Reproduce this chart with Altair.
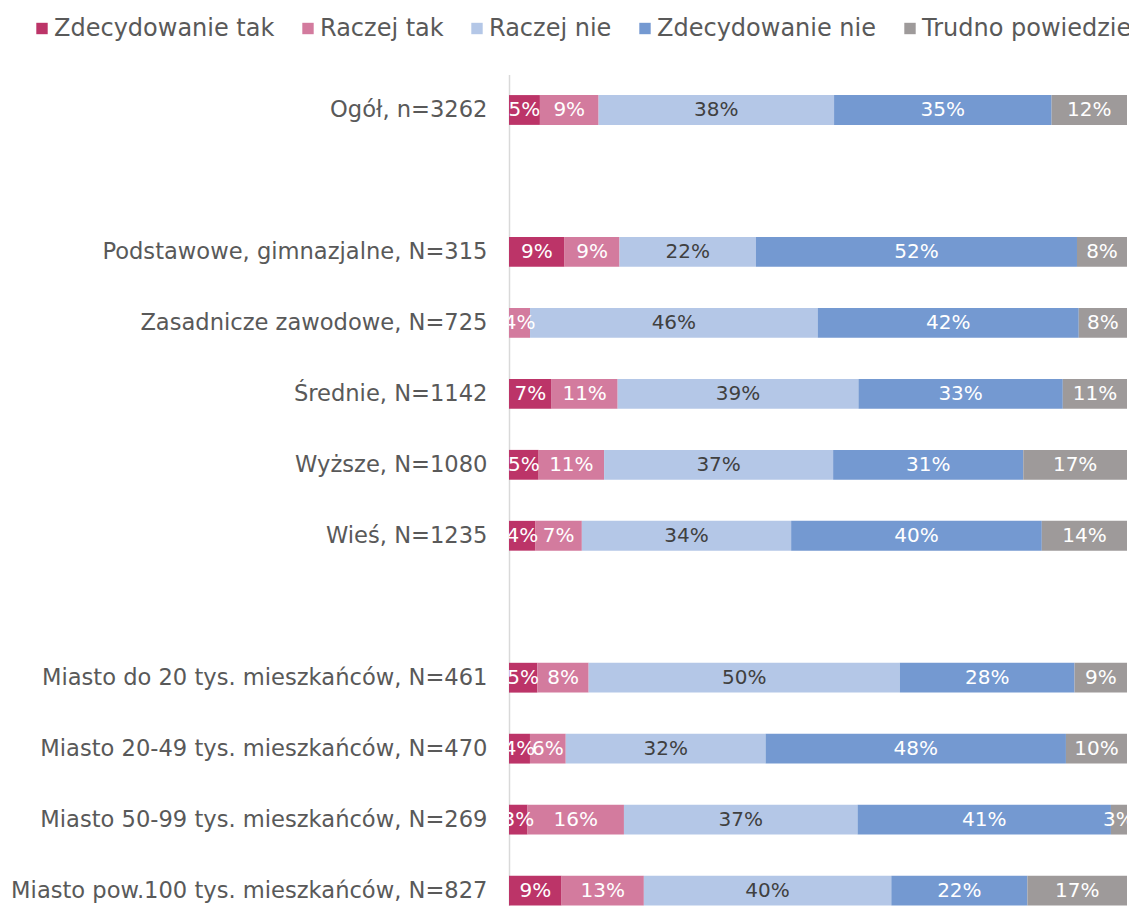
import altair as alt
import pandas as pd

rows = [
    "Ogół, n=3262",
    " ",
    "Podstawowe, gimnazjalne, N=315",
    "Zasadnicze zawodowe, N=725",
    "Średnie, N=1142",
    "Wyższe, N=1080",
    "Wieś, N=1235",
    "  ",
    "Miasto do 20 tys. mieszkańców, N=461",
    "Miasto 20-49 tys. mieszkańców, N=470",
    "Miasto 50-99 tys. mieszkańców, N=269",
    "Miasto pow.100 tys. mieszkańców, N=827",
]
groups = [r for r in rows if r.strip()]

series = ["Zdecydowanie tak", "Raczej tak", "Raczej nie", "Zdecydowanie nie", "Trudno powiedzieć"]
colors = ["#BC3468", "#D37B9E", "#B4C7E7", "#7499D1", "#9E9A9A"]
text_colors = ["#FFFFFF", "#FFFFFF", "#404040", "#FFFFFF", "#FFFFFF"]

zdec_tak = [5.0, 9.0, 0.0, 6.9, 4.8, 4.3, 4.6, 3.4, 3.0, 8.5]
raczej_tak = [9.5, 8.9, 3.4, 10.7, 10.6, 7.5, 8.3, 5.8, 15.6, 13.3]
raczej_nie = [38.1, 22.1, 46.5, 39.0, 37.1, 33.9, 50.4, 32.4, 37.8, 40.0]
zdec_nie = [35.2, 52.0, 42.2, 33.1, 30.8, 40.6, 28.3, 48.7, 41.0, 22.0]
trudno = [12.2, 8.1, 7.8, 10.4, 16.8, 13.8, 8.5, 9.9, 2.6, 16.1]

lab_zdec_tak = ["5%", "9%", "", "7%", "5%", "4%", "5%", "4%", "3%", "9%"]
lab_raczej_tak = ["9%", "9%", "4%", "11%", "11%", "7%", "8%", "6%", "16%", "13%"]
lab_raczej_nie = ["38%", "22%", "46%", "39%", "37%", "34%", "50%", "32%", "37%", "40%"]
lab_zdec_nie = ["35%", "52%", "42%", "33%", "31%", "40%", "28%", "48%", "41%", "22%"]
lab_trudno = ["12%", "8%", "8%", "11%", "17%", "14%", "9%", "10%", "3%", "17%"]

values = [zdec_tak, raczej_tak, raczej_nie, zdec_nie, trudno]
labels = [lab_zdec_tak, lab_raczej_tak, lab_raczej_nie, lab_zdec_nie, lab_trudno]

recs = []
for si, s in enumerate(series):
    for gi, g in enumerate(groups):
        recs.append({
            "grupa": g,
            "seria": s,
            "ord": si,
            "v": values[si][gi],
            "lab": labels[si][gi],
            "tc": text_colors[si],
        })
df = pd.DataFrame(recs)

FONT = "DejaVu Sans"

yscale = alt.Scale(domain=rows, paddingInner=0.58, paddingOuter=0.145, align=1, round=False)
xscale = alt.Scale(domain=[0, 1], nice=False, zero=True)

base = alt.Chart(df).transform_stack(
    stack="v", as_=["x0", "x1"], groupby=["grupa"],
    sort=[alt.SortField("ord", order="ascending")], offset="normalize",
)

bars = base.mark_bar().encode(
    y=alt.Y("grupa:N", scale=yscale, sort=rows,
            axis=alt.Axis(title=None, ticks=False, domain=True, domainColor="#D9D9D9",
                          domainWidth=1.5, labelPadding=22, labelFontSize=22.6,
                          labelColor="#595959", labelFont=FONT, labelLimit=600)),
    x=alt.X("x0:Q", scale=xscale, axis=None),
    x2="x1:Q",
    color=alt.Color("seria:N", scale=alt.Scale(domain=series, range=colors), sort=series,
                    legend=alt.Legend(title=None, orient="none", legendX=-479, legendY=-58,
                                      direction="horizontal", columns=5, columnPadding=21,
                                      symbolType="square", symbolSize=130, symbolStrokeWidth=0,
                                      labelFontSize=24, labelColor="#595959", labelFont=FONT,
                                      labelLimit=600, labelOffset=0)),
)

texts = base.transform_calculate(mid="(datum.x0 + datum.x1) / 2").mark_text(
    clip=True, fontSize=20, font=FONT, baseline="middle", align="center"
).encode(
    y=alt.Y("grupa:N", scale=yscale, sort=rows),
    x=alt.X("mid:Q", scale=xscale),
    text="lab:N",
    color=alt.Color("tc:N", scale=None),
)

chart = alt.layer(bars, texts).properties(
    width=618, height=831,
    autosize=alt.AutoSizeParams(type="none"),
    padding={"left": 501, "top": 66.5, "right": 2, "bottom": 2},
).configure_view(stroke=None)

chart.save("out.html", embed_options={"renderer": "svg", "actions": False})
